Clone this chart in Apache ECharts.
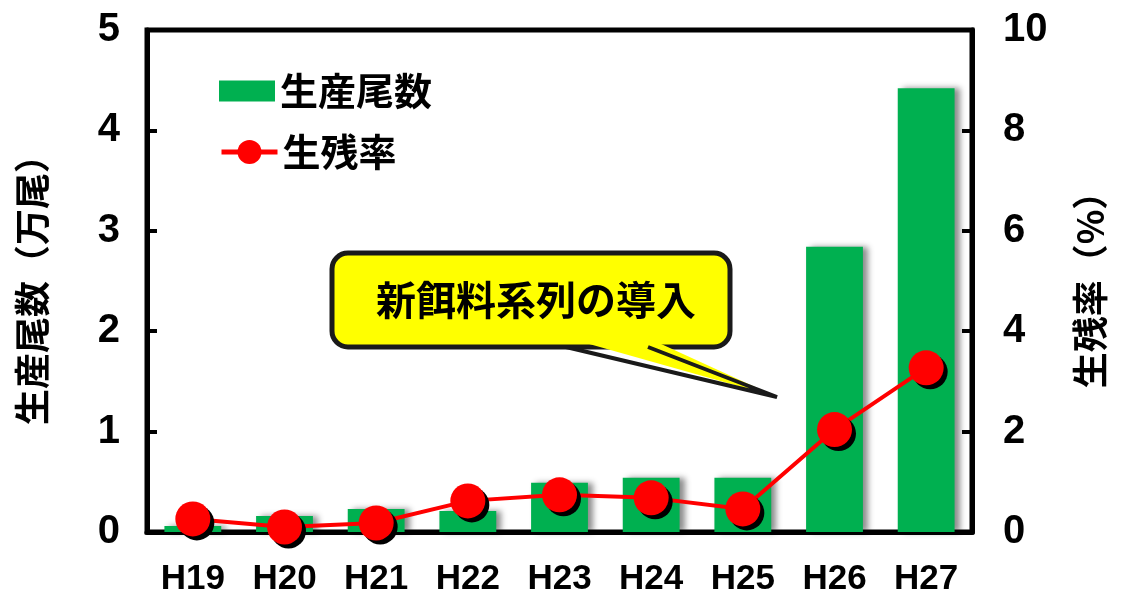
<!DOCTYPE html>
<html><head><meta charset="utf-8">
<script src="https://cdn.jsdelivr.net/npm/echarts@6/dist/echarts.min.js"></script>
<style>html,body{margin:0;padding:0;background:#fff}#c{width:1122px;height:604px}</style>
</head><body><div id="c"></div>
<script>
var categories = ['H19','H20','H21','H22','H23','H24','H25','H26','H27'];
var production = [0.06, 0.16, 0.23, 0.21, 0.49, 0.54, 0.54, 2.84, 4.42];
var survival = [0.26, 0.10, 0.18, 0.62, 0.74, 0.68, 0.46, 2.04, 3.27];
var leftTicks = [0, 1, 2, 3, 4, 5];
var rightTicks = [0, 2, 4, 6, 8, 10];

var JP = '"Noto Sans CJK JP", "Noto Sans", sans-serif';
var NUM = '"Liberation Sans", Arial, sans-serif';
var chart = echarts.init(document.getElementById('c'));
chart.setOption({
  animation: false,
  backgroundColor: '#fff',
  grid: {left: 147, right: 150, top: 30, bottom: 72, show: true, borderColor: '#000', borderWidth: 5, containLabel: false, outerBoundsMode: 'none'},
  legend: [{
    left: 214, top: 67, itemWidth: 56, itemHeight: 21,
    textStyle: {fontFamily: JP, fontSize: 38, fontWeight: 'bold', color: '#000', padding: [0,0,0,0]},
    data: [{name: '生産尾数', icon: 'rect'}]
  }, {
    left: 214, top: 128, itemWidth: 56, itemHeight: 30,
    textStyle: {fontFamily: JP, fontSize: 38, fontWeight: 'bold', color: '#000', padding: [0,0,0,0]},
    data: [{name: '生残率', lineStyle: {width: 5}}]
  }],
  xAxis: {
    type: 'category', data: categories,
    axisLine: {lineStyle: {color: '#000', width: 5}},
    axisTick: {inside: true, length: 8, lineStyle: {color: '#000', width: 4}},
    axisLabel: {fontFamily: NUM, fontSize: 35, fontWeight: 'bold', color: '#000', margin: 30}
  },
  yAxis: [{
    type: 'value', min: leftTicks[0], max: leftTicks[leftTicks.length-1], interval: 1,
    name: '生産尾数（万尾）', nameLocation: 'middle', nameRotate: 90, nameGap: 97,
    nameTextStyle: {fontFamily: JP, fontSize: 36, fontWeight: 'bold', color: '#000'},
    axisLine: {show: true, lineStyle: {color: '#000', width: 5}},
    axisTick: {show: true, inside: true, length: 10, lineStyle: {color: '#000', width: 4}},
    axisLabel: {fontFamily: NUM, fontSize: 40, fontWeight: 'bold', color: '#000', margin: 27},
    splitLine: {show: false}
  }, {
    type: 'value', min: rightTicks[0], max: rightTicks[rightTicks.length-1], interval: 2,
    name: '生残率（%）', nameLocation: 'middle', nameRotate: 90, nameGap: 100,
    nameTextStyle: {fontFamily: JP, fontSize: 36, fontWeight: 'bold', color: '#000'},
    axisLine: {show: true, lineStyle: {color: '#000', width: 5}},
    axisTick: {show: true, inside: true, length: 10, lineStyle: {color: '#000', width: 4}},
    axisLabel: {fontFamily: NUM, fontSize: 40, fontWeight: 'bold', color: '#000', margin: 31},
    splitLine: {show: false}
  }],
  series: [{
    name: '生産尾数', type: 'bar', data: production, barWidth: '62%', yAxisIndex: 0,
    itemStyle: {color: '#00b050', shadowColor: 'rgba(0,0,0,0.45)', shadowBlur: 6, shadowOffsetX: 5, shadowOffsetY: 0}
  }, {
    name: '生残率', type: 'line', data: survival, yAxisIndex: 1, symbol: 'circle', symbolSize: 35,
    lineStyle: {color: '#ff0000', width: 4},
    itemStyle: {color: '#ff0000', shadowColor: '#000', shadowBlur: 0, shadowOffsetX: 4, shadowOffsetY: 4}
  }],
  graphic: [
    {type: 'polygon', z: 100, shape: {points: [[568, 338], [648, 338], [777, 397]]}, style: {fill: '#ffff00'}},
    {type: 'rect', z: 99, shape: {x: 332, y: 253, width: 398, height: 94, r: 16}, style: {fill: '#ffff00', stroke: '#1a1a1a', lineWidth: 5}},
    {type: 'polyline', z: 101, shape: {points: [[566, 347], [777, 397], [648, 347]]}, style: {stroke: '#1a1a1a', lineWidth: 4, fill: null}},
    {type: 'text', z: 102, style: {x: 536, y: 300, text: '新餌料系列の導入', font: 'bold 40px "Noto Sans CJK JP"', fill: '#000', textAlign: 'center', textVerticalAlign: 'middle'}}
  ]
});
</script></body></html>
